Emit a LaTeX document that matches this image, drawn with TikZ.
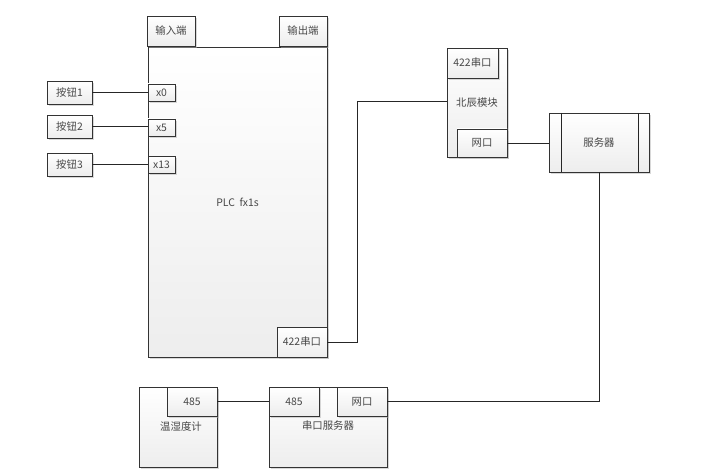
\documentclass[tikz,border=0pt]{standalone}
\usepackage{fontspec}
\newfontfamily\cjk{Noto Sans CJK SC}
\usetikzlibrary{shadows}
\tikzset{
  lbl/.style={font=\cjk\fontsize{10.4}{11}\selectfont, text=black!72},
  box/.style={draw=black!80, line width=0.7pt, top color=white, bottom color=black!7,
    inner sep=0pt, outer sep=0pt, anchor=north west, lbl,
    drop shadow={shadow xshift=1.6pt, shadow yshift=-1.6pt, fill=black!30, opacity=0.5}},
  wire/.style={draw=black!85, line width=0.7pt},
}
\newcommand{\bx}[6]{\node[box, minimum width=#4pt-#2pt, minimum height=#5pt-#3pt] (#1) at (#2,#3) {#6};}
\begin{document}
\begin{tikzpicture}[x=1pt,y=-1pt]
\useasboundingbox (0,0) rectangle (720,476);
% PLC
\bx{plc}{148}{47}{327}{357}{PLC\ \ fx1s}
\bx{in}{147}{16}{195}{46}{输入端}
\bx{out}{279}{16}{327}{46}{输出端}
\bx{x0}{148}{84}{175}{101}{x0}
\bx{x5}{148}{119}{175}{136}{x5}
\bx{x13}{148}{156}{175}{173}{x13}
\bx{p422}{277}{327}{327}{357}{422串口}
% buttons
\bx{b1}{47}{81}{92}{104}{按钮1}
\bx{b2}{47}{115}{92}{138}{按钮2}
\bx{b3}{47}{153}{92}{176}{按钮3}
% Beichen module
\bx{bc}{447}{48}{507}{157}{北辰模块}
\bx{bc422}{447}{48}{498}{78}{422串口}
\bx{bcnet}{457}{129}{507}{157}{网口}
% server
\bx{srv}{549}{113}{649}{172}{服务器}
\draw[wire] ([xshift=12pt]srv.north west) -- ([xshift=12pt]srv.south west);
\draw[wire] ([xshift=-11pt]srv.north east) -- ([xshift=-11pt]srv.south east);
% thermo-hygrometer
\bx{th}{139}{387}{217}{467}{}
\node[lbl] (thl) at (181,427) {温湿度计};
\bx{th485}{167}{387}{217}{416}{485}
% serial server
\bx{ss}{269}{387}{387}{467}{}
\node[lbl] (ssl) at (328,426) {串口服务器};
\bx{ss485}{269}{387}{319}{416}{485}
\bx{ssnet}{337}{387}{387}{416}{网口}
% wires
\draw[wire] (b1.east) -- (x0.west |- b1.east);
\draw[wire] (b2.east) -- (x5.west |- b2.east);
\draw[wire] (b3.east) -- (x13.west |- b3.east);
\draw[wire] (p422.east) -| (357,101) -- (bc.west |- 0,101);
\draw[wire] (bcnet.east) -- (srv.west |- bcnet.east);
\draw[wire] (srv.south) |- (ssnet.east);
\draw[wire] (th485.east) -- (ss485.west);
\end{tikzpicture}
\end{document}
